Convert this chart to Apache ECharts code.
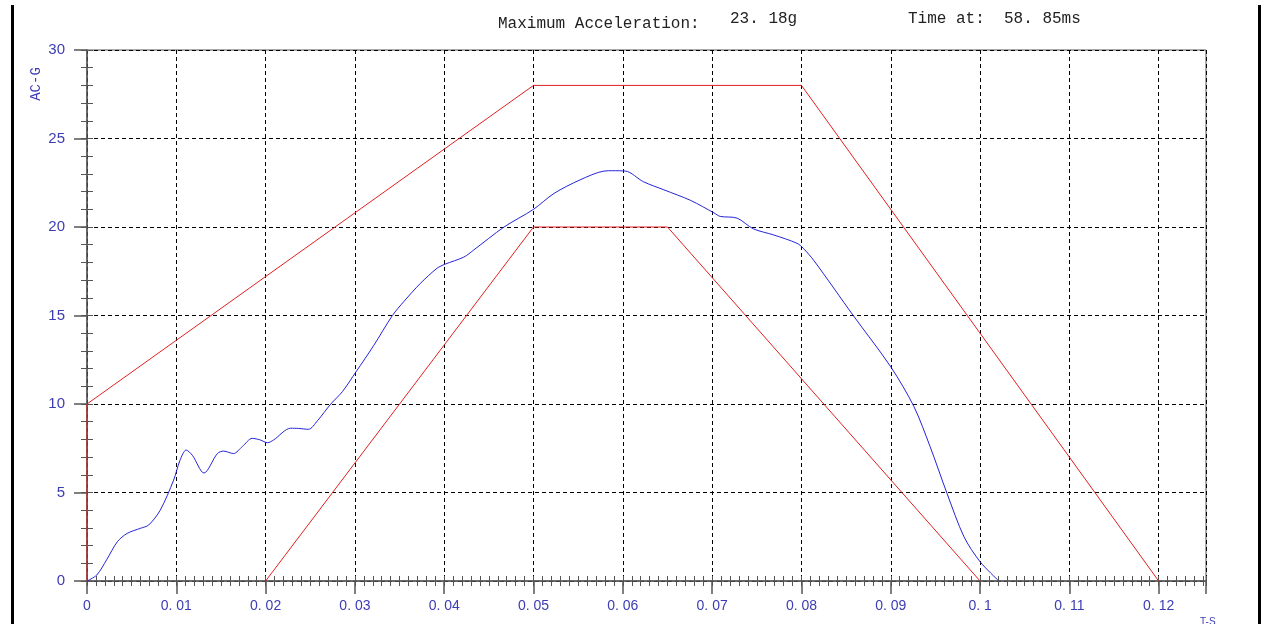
<!DOCTYPE html>
<html>
<head>
<meta charset="utf-8">
<title>AC-G</title>
<script src="https://cdn.jsdelivr.net/npm/echarts@6/dist/echarts.min.js"></script>
<style>
  html, body { margin: 0; padding: 0; background: #fff; }
  #main { width: 1265px; height: 624px; }
</style>
</head>
<body>
<div id="main"></div>
<script>
// measured curve (time in s, acceleration in g)
var accel = [
  [0, 0], [0.0011, 0.34], [0.0022, 1.2], [0.0034, 2.22], [0.0045, 2.69],
  [0.006, 2.98], [0.0069, 3.16], [0.0082, 4.0], [0.0097, 5.7], [0.0104, 6.8],
  [0.0111, 7.4], [0.0118, 7.1], [0.0131, 6.1], [0.0146, 7.2], [0.0153, 7.34],
  [0.0164, 7.2], [0.0174, 7.6], [0.0185, 8.06], [0.0194, 7.97], [0.0202, 7.81],
  [0.0209, 7.97], [0.0228, 8.63], [0.0237, 8.62], [0.0248, 8.57], [0.0258, 9.05],
  [0.0273, 10.0], [0.0286, 10.7], [0.0301, 11.8], [0.0321, 13.3], [0.0342, 15.0],
  [0.0355, 15.8], [0.0373, 16.8], [0.0392, 17.67], [0.0401, 17.9], [0.0422, 18.3],
  [0.0433, 18.7], [0.0467, 20.0], [0.05, 21.0], [0.0523, 21.9], [0.0552, 22.66],
  [0.0579, 23.16], [0.05885, 23.18], [0.0603, 23.16], [0.0623, 22.56], [0.0646, 22.1],
  [0.0676, 21.5], [0.0702, 20.8], [0.0709, 20.6], [0.0728, 20.5], [0.0746, 19.9],
  [0.0769, 19.55], [0.0795, 19.08], [0.0802, 18.8], [0.0814, 18.1], [0.0858, 15.0],
  [0.09, 12.1], [0.0926, 9.85], [0.0944, 7.6], [0.0963, 4.95], [0.0982, 2.5],
  [0.1, 1.09], [0.102, 0.05]
];
// corridor limits
var upperLimit = [[0, 0], [0, 10], [0.05, 28], [0.08, 28], [0.12, 0]];
var lowerLimit = [[0.02, 0], [0.05, 20], [0.065, 20], [0.1, 0]];

var maxAccelText = '23. 18g';
var maxTimeText = '58. 85ms';
var yTicks = [0, 5, 10, 15, 20, 25, 30];

var labelBlue = '#3c3cb4';
var axisGrey = '#555';

function xLabel(v) {
  var k = v / 0.01;
  if (Math.abs(k - Math.round(k)) > 1e-6) return '';
  var s = String(Math.round(v * 100) / 100);
  return s.replace('.', '. ');
}

// tick-only axes (fine ticks crossing the axis line)
function tickX(inside) {
  return {
    type: 'value', min: 0, max: 0.1253, interval: 0.001, position: 'bottom',
    axisLine: { show: false },
    axisTick: { show: true, inside: inside, length: 5, lineStyle: { color: axisGrey } },
    axisLabel: { show: false }, splitLine: { show: false }
  };
}
function tickY(inside) {
  return {
    type: 'value', min: 0, max: 30, interval: 1, position: 'left',
    axisLine: { show: false },
    axisTick: { show: true, inside: inside, length: 6, lineStyle: { color: axisGrey } },
    axisLabel: { show: false }, splitLine: { show: false }
  };
}

var option = {
  animation: false,
  backgroundColor: '#fff',
  grid: {
    left: 87, right: 59, top: 50, bottom: 43,
    show: true, borderColor: axisGrey, borderWidth: 1, backgroundColor: 'transparent'
  },
  xAxis: [
    {
      type: 'value', min: 0, max: 0.1253, interval: 0.01, position: 'bottom',
      axisLine: { show: true, lineStyle: { color: axisGrey, width: 1.5 } },
      axisTick: { show: true, length: 13, lineStyle: { color: axisGrey, width: 1.5 } },
      axisLabel: {
        color: labelBlue, fontSize: 14, fontFamily: 'Liberation Sans', margin: 18,
        formatter: xLabel, hideOverlap: false
      },
      splitLine: { show: true, lineStyle: { color: '#000', type: [4, 3], width: 1 } }
    },
    tickX(false),
    tickX(true)
  ],
  yAxis: [
    {
      type: 'value', min: 0, max: 30, interval: 5, position: 'left',
      axisLine: { show: true, lineStyle: { color: axisGrey, width: 1.5 } },
      axisTick: { show: true, length: 13, lineStyle: { color: axisGrey, width: 1.5 } },
      axisLabel: {
        color: labelBlue, fontSize: 15, fontFamily: 'Liberation Sans', margin: 22,
        formatter: function (v) { return yTicks.indexOf(v) >= 0 ? String(v) : ''; }
      },
      splitLine: { show: true, lineStyle: { color: '#000', type: [4, 3], width: 1 } }
    },
    tickY(false),
    tickY(true)
  ],
  series: [
    {
      name: 'upper', type: 'line', data: upperLimit, symbol: 'none',
      lineStyle: { color: '#e02020', width: 1 }, z: 3
    },
    {
      name: 'lower', type: 'line', data: lowerLimit, symbol: 'none',
      lineStyle: { color: '#e02020', width: 1 }, z: 3
    },
    {
      name: 'AC-G', type: 'line', data: accel, symbol: 'none', smooth: 0.3,
      lineStyle: { color: '#2424d8', width: 1 }, z: 4
    }
  ],
  graphic: [
    // frame bars
    { type: 'rect', shape: { x: 11, y: 5, width: 3, height: 619 }, style: { fill: '#000' } },
    { type: 'rect', shape: { x: 1258, y: 5, width: 3, height: 619 }, style: { fill: '#000' } },
    // header
    { type: 'text', left: 498, top: 16, style: { text: 'Maximum Acceleration:', fill: '#222', font: '16px "Liberation Mono"' } },
    { type: 'text', left: 730, top: 11, style: { text: maxAccelText, fill: '#222', font: '16px "Liberation Mono"' } },
    { type: 'text', left: 908, top: 11, style: { text: 'Time at:', fill: '#222', font: '16px "Liberation Mono"' } },
    { type: 'text', left: 1004, top: 11, style: { text: maxTimeText, fill: '#222', font: '16px "Liberation Mono"' } },
    // axis names
    {
      type: 'text', x: 36, y: 84, rotation: Math.PI / 2,
      style: { text: 'AC-G', fill: labelBlue, font: '14px "Liberation Mono"', align: 'center', verticalAlign: 'middle' }
    },
    { type: 'text', left: 1200, top: 617, style: { text: 'T-S', fill: labelBlue, font: '10px "Liberation Sans"' } }
  ]
};

var chart = echarts.init(document.getElementById('main'));
chart.setOption(option);
</script>
</body>
</html>
